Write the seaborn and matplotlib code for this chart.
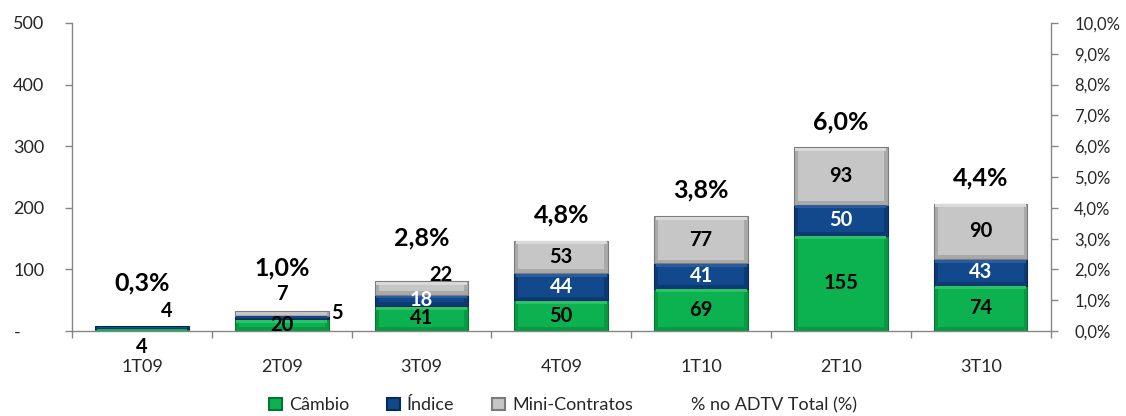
import matplotlib
matplotlib.use("Agg")
import matplotlib.pyplot as plt
import pandas as pd
import seaborn as sns
from matplotlib.patches import Patch, Rectangle
from matplotlib.lines import Line2D
from matplotlib.ticker import FixedLocator, FuncFormatter

categories = ["1T09", "2T09", "3T09", "4T09", "1T10", "2T10", "3T10"]
cambio = [4, 20, 41, 50, 69, 155, 74]
indice = [4, 5, 18, 44, 41, 50, 43]
mini = [0, 7, 22, 53, 77, 93, 90]
pct_adtv = [0.3, 1.0, 2.8, 4.8, 3.8, 6.0, 4.4]

series_names = ["Câmbio", "Índice", "Mini-Contratos"]
face = {"Câmbio": "#0bb24f", "Índice": "#12498c", "Mini-Contratos": "#c6c6c6"}
rim = {"Câmbio": "#089a42", "Índice": "#0c3a72", "Mini-Contratos": "#a9a9a9"}
edge = {"Câmbio": "#06743a", "Índice": "#082a55", "Mini-Contratos": "#7c7c7c"}
top_band = {"Câmbio": "#2cc267", "Índice": "#2a5c9c", "Mini-Contratos": "#d9d9d9"}
text_color = {"Câmbio": "black", "Índice": "white", "Mini-Contratos": "black"}

# labels that Excel pushed outside tiny segments: offset in points
label_shift = {
    ("Câmbio", "1T09"): (0, -12),
    ("Índice", "1T09"): (18, 12),
    ("Índice", "2T09"): (40, 3),
    ("Mini-Contratos", "2T09"): (0, 14),
    ("Mini-Contratos", "3T09"): (14, 9),
}

df = pd.DataFrame({"cat": categories, "Câmbio": cambio, "Índice": indice, "Mini-Contratos": mini})
df["bottom_Índice"] = df["Câmbio"]
df["bottom_Mini-Contratos"] = df["Câmbio"] + df["Índice"]
df["total"] = df["Câmbio"] + df["Índice"] + df["Mini-Contratos"]

sns.set_theme(style="white")
plt.rcParams["font.family"] = ["Lato", "DejaVu Sans"]

fig = plt.figure(figsize=(11.26, 4.16), dpi=100)
ax = fig.add_axes([0.064, 0.204, 0.869, 0.741])

bar_w = 0.67
# stacked via cumulative sums, drawn largest first
sns.barplot(data=df, x="cat", y="total", color=face["Mini-Contratos"], width=bar_w, ax=ax, saturation=1)
sns.barplot(data=df, x="cat", y="bottom_Mini-Contratos", color=face["Índice"], width=bar_w, ax=ax, saturation=1)
sns.barplot(data=df, x="cat", y="Câmbio", color=face["Câmbio"], width=bar_w, ax=ax, saturation=1)

# bevel look drawn over the seaborn bars: soft rim + lighter inner face
for p in list(ax.patches):
    p.set_visible(False)
for i, cat in enumerate(categories):
    x0 = i - bar_w / 2
    for name in series_names:
        base = 0 if name == "Câmbio" else df.loc[i, "bottom_" + name]
        h = df.loc[i, name]
        if h <= 0:
            continue
        ax.add_patch(Rectangle((x0, base), bar_w, h, facecolor=rim[name], edgecolor=edge[name],
                               linewidth=0.8, zorder=2))
        ix, iy = 0.028, 6
        if h > 2.5 * iy:
            ax.add_patch(Rectangle((x0 + ix, base + iy), bar_w - 2 * ix, h - 2 * iy,
                                   facecolor=face[name], edgecolor="none", zorder=3))
            ax.add_patch(Rectangle((x0 + 0.01, base + h - iy), bar_w - 0.02, iy * 0.8,
                                   facecolor=top_band[name], edgecolor="none", zorder=3))
        else:
            ax.add_patch(Rectangle((x0 + 0.01, base + h * 0.25), bar_w - 0.02, h * 0.5,
                                   facecolor=face[name], edgecolor="none", zorder=3))

        dx, dy = label_shift.get((name, cat), (0, 0))
        ax.annotate(str(h), (i, base + h / 2), xytext=(dx, dy), textcoords="offset points",
                    ha="center", va="center", fontsize=14.5, fontweight="bold",
                    color="black" if (dx or dy) else text_color[name], zorder=5)

for i, val in enumerate(pct_adtv):
    total = df.loc[i, "total"]
    gap = 70 if total < 100 else 42
    ax.text(i, total + gap, f"{val:.1f}%".replace(".", ","), ha="center", va="center",
            fontsize=18, fontweight="bold", color="black")

ax.set_xlim(-0.5, 6.5)
ax.set_ylim(0, 500)
ax.set_yticks([0, 100, 200, 300, 400, 500])
ax.set_yticklabels(["-     ", "100", "200", "300", "400", "500"])
ax.set_xlabel("")
ax.set_ylabel("")
ax.xaxis.set_minor_locator(FixedLocator([k + 0.5 for k in range(-1, 7)]))
ax.tick_params(axis="x", which="major", length=0, pad=20, labelsize=13)
ax.tick_params(axis="x", which="minor", length=5, color="#868686", width=1, direction="out", bottom=True)
ax.tick_params(axis="y", length=5, color="#868686", width=1, direction="out", left=True, pad=15, labelsize=13)

ax2 = ax.twinx()
ax2.set_ylim(0, 0.10)
ax2.set_yticks([k / 100 for k in range(11)])
ax2.yaxis.set_major_formatter(FuncFormatter(lambda v, _: f"{v * 100:.1f}%".replace(".", ",")))
ax2.tick_params(axis="y", length=5, color="#868686", width=1, direction="out", right=True, pad=12, labelsize=12)
ax2.grid(False)

for a in (ax, ax2):
    a.spines["top"].set_visible(False)
    for s in ("left", "right", "bottom"):
        a.spines[s].set_color("#868686")
        a.spines[s].set_linewidth(1)
ax.spines["right"].set_visible(False)
ax2.spines["left"].set_visible(False)
ax2.spines["bottom"].set_visible(False)

handles = [Patch(facecolor=face[n], edgecolor=edge[n], linewidth=1.5) for n in series_names]
handles.append(Line2D([], [], linestyle="none"))
labels = series_names + ["% no ADTV Total (%)"]
fig.legend(handles, labels, loc="center", bbox_to_anchor=(0.50, 0.026), ncol=4, frameon=False,
           fontsize=13, handlelength=0.7, handleheight=0.7, handletextpad=0.4, columnspacing=2.1)

fig.savefig("out.png", dpi=100)
